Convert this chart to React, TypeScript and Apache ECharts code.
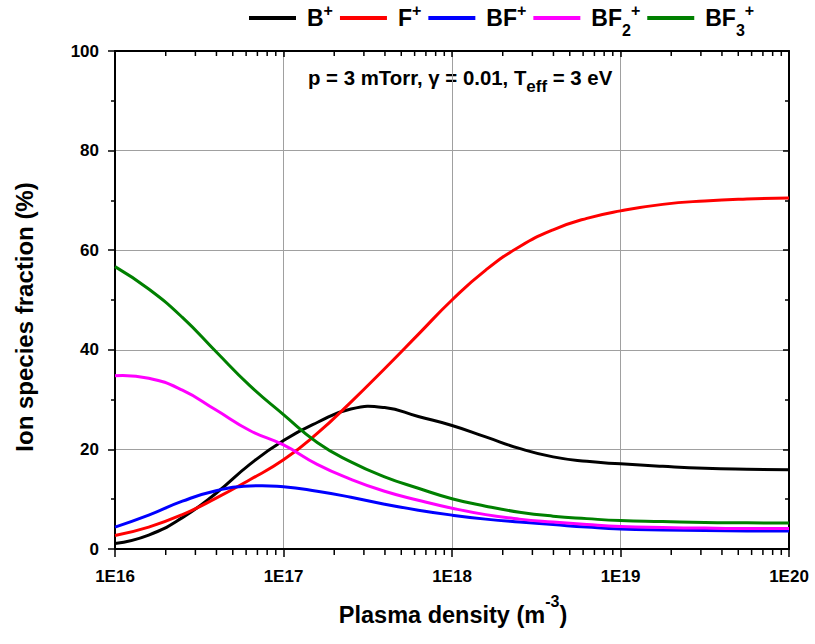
import React, { useEffect, useRef } from "react";
import * as echarts from "echarts";

// log10 of plasma density (m^-3)
const exponents = [16, 16.2, 16.4, 16.6, 16.8, 17, 17.2, 17.4, 17.6, 17.8, 18, 18.2, 18.4, 18.6, 18.8, 19, 19.25, 19.5, 19.75, 20];
const seriesNames = ["B+", "F+", "BF+", "BF2+", "BF3+"];
const bPlus = [1.1, 2.8, 6.3, 11.2, 17.0, 21.8, 25.4, 28.1, 28.4, 26.6, 24.8, 22.5, 20.2, 18.5, 17.6, 17.1, 16.6, 16.2, 16.0, 15.9];
const fPlus = [2.7, 4.4, 6.9, 10.2, 13.9, 17.9, 23.2, 29.5, 36.2, 43.1, 50.0, 56.0, 60.7, 64.1, 66.4, 67.9, 69.2, 69.9, 70.3, 70.5];
const bfPlus = [4.4, 6.8, 9.6, 11.7, 12.65, 12.5, 11.6, 10.4, 9.0, 7.8, 6.8, 6.0, 5.4, 4.9, 4.4, 4.0, 3.8, 3.7, 3.6, 3.6];
const bf2Plus = [34.8, 34.3, 31.9, 27.9, 23.8, 20.9, 17.0, 14.0, 11.6, 9.8, 8.2, 6.9, 6.0, 5.4, 4.9, 4.5, 4.3, 4.2, 4.1, 4.1];
const bf3Plus = [56.7, 52.2, 46.5, 39.6, 32.8, 27.0, 21.4, 17.5, 14.5, 12.2, 10.1, 8.6, 7.4, 6.6, 6.1, 5.7, 5.5, 5.3, 5.25, 5.2];
const seriesColors = ["#000000", "#ff0000", "#0000ff", "#ff00ff", "#008000"];
const legendLabels: Record<string, string> = {
  "B+": "{n|B}{sup|+}",
  "F+": "{n|F}{sup|+}",
  "BF+": "{n|BF}{sup|+}",
  "BF2+": "{n|BF}{sub|2}{sup|+}",
  "BF3+": "{n|BF}{sub|3}{sup|+}",
};
const minorMantissas = [2, 3, 4, 5, 6, 7, 8, 9];
const decades = [16, 17, 18, 19];
const xMin = 1e16;
const xMax = 1e20;
const yTicks = { min: 0, max: 100, interval: 20 };

const FONT = "'Liberation Sans', Arial, sans-serif";

export default function App() {
  const ref = useRef<HTMLDivElement>(null);
  useEffect(() => {
    if (!ref.current) return;
    const chart = echarts.init(ref.current, null, { renderer: "svg" });
    const densities = exponents.map((e) => Math.pow(10, e));
    const allData = [bPlus, fPlus, bfPlus, bf2Plus, bf3Plus];
    const minorTicks: number[] = [];
    decades.forEach((d) => minorMantissas.forEach((m) => minorTicks.push(m * Math.pow(10, d))));

    const legendRich = {
      n: { fontSize: 23, fontWeight: "bold", fontFamily: FONT, color: "#000" },
      sup: { fontSize: 16, fontWeight: "bold", fontFamily: FONT, color: "#000", padding: [0, 0, 16, 0] },
      sub: { fontSize: 16, fontWeight: "bold", fontFamily: FONT, color: "#000", padding: [25, 0, 0, 0] },
    };

    // Each curve: a custom series drawing one smooth spline through its points (via the axes' scales)
    const curveSeries = seriesNames.map((name, i) => {
      const pts = densities.map((x, j) => [x, allData[i][j]]);
      return {
        name,
        type: "custom",
        coordinateSystem: "cartesian2d",
        xAxisIndex: 0,
        yAxisIndex: 0,
        dimensions: ["x", "y"],
        encode: { x: 0, y: 1 },
        data: pts,
        itemStyle: { color: seriesColors[i] },
        z: 3 + i,
        renderItem: (params: any, api: any) => {
          if (params.dataIndex !== 0) return null;
          const points = pts.map((p) => api.coord(p));
          return {
            type: "polyline",
            shape: { points, smooth: 0.5 },
            style: { stroke: seriesColors[i], lineWidth: 3, fill: null, lineJoin: "round" },
          };
        },
      };
    });

    // Logarithmic minor ticks on bottom (outward) and top (inward) x axes
    const tickPts = minorTicks.map((v) => [v, yTicks.min]);
    const minorTickSeries = {
      name: "minorTicks",
      type: "custom",
      coordinateSystem: "cartesian2d",
      xAxisIndex: 0,
      yAxisIndex: 0,
      silent: true,
      clip: false,
      z: 20,
      dimensions: ["x", "y"],
      encode: { x: 0, y: 1 },
      data: tickPts,
      itemStyle: { color: "#000" },
      renderItem: (params: any, api: any) => {
        if (params.dataIndex !== 0) return null;
        const children: any[] = [];
        minorTicks.forEach((v) => {
          const b = api.coord([v, yTicks.min]);
          const t = api.coord([v, yTicks.max]);
          children.push({ type: "rect", shape: { x: b[0] - 0.75, y: b[1], width: 1.5, height: 6 }, style: { fill: "#000" } });
          children.push({ type: "rect", shape: { x: t[0] - 0.75, y: t[1], width: 1.5, height: 5 }, style: { fill: "#000" } });
        });
        return { type: "group", children };
      },
    };

    const axisLineStyle = { color: "#000", width: 2 };
    const gridLine = { show: true, lineStyle: { color: "#a0a0a0", width: 1 } };

    chart.setOption({
      animation: false,
      backgroundColor: "#ffffff",
      grid: { left: 115, right: 26, top: 51, bottom: 95, containLabel: false },
      legend: {
        data: seriesNames,
        left: 244,
        top: -3,
        itemWidth: 47,
        itemHeight: 4,
        itemGap: 7,
        icon: "rect",
        formatter: (name: string) => legendLabels[name],
        textStyle: { rich: legendRich, padding: [0, 0, 0, 6] },
      },
      xAxis: [
        {
          type: "log",
          logBase: 10,
          min: xMin,
          max: xMax,
          splitNumber: 4,
          position: "bottom",
          axisLine: { show: true, onZero: false, lineStyle: axisLineStyle },
          axisTick: { show: true, inside: false, length: 8, lineStyle: { color: "#000", width: 1.5 } },
          axisLabel: {
            margin: 19,
            color: "#000",
            fontSize: 17,
            fontWeight: "bold",
            fontFamily: FONT,
            formatter: (v: number) => "1E" + Math.round(Math.log10(v)),
          },
          splitLine: gridLine,
        },
        {
          type: "log",
          logBase: 10,
          min: xMin,
          max: xMax,
          splitNumber: 4,
          position: "top",
          axisLine: { show: true, onZero: false, lineStyle: axisLineStyle },
          axisTick: { show: true, inside: true, length: 6, lineStyle: { color: "#000", width: 1.5 } },
          axisLabel: { show: false },
          splitLine: { show: false },
        },
      ],
      yAxis: [
        {
          type: "value",
          min: yTicks.min,
          max: yTicks.max,
          interval: yTicks.interval,
          position: "left",
          axisLine: { show: true, onZero: false, lineStyle: axisLineStyle },
          axisTick: { show: true, inside: false, length: 7, lineStyle: { color: "#000", width: 1.5 } },
          minorTick: { show: true, splitNumber: 2, length: 4, lineStyle: { color: "#000", width: 1.5 } },
          axisLabel: { margin: 16, color: "#000", fontSize: 17, fontWeight: "bold", fontFamily: FONT },
          splitLine: gridLine,
        },
        {
          type: "value",
          min: yTicks.min,
          max: yTicks.max,
          interval: yTicks.interval,
          position: "right",
          axisLine: { show: true, onZero: false, lineStyle: axisLineStyle },
          axisTick: { show: true, inside: true, length: 6, lineStyle: { color: "#000", width: 1.5 } },
          minorTick: { show: true, splitNumber: 2, length: 4, lineStyle: { color: "#000", width: 1.5 } },
          axisLabel: { show: false },
          splitLine: { show: false },
        },
      ],
      series: [...curveSeries, minorTickSeries],
      graphic: [
        {
          type: "text",
          x: 308,
          y: 78,
          style: {
            text: "{a|p = 3 mTorr, γ = 0.01, T}{s|eff}{a| = 3 eV}",
            align: "left",
            verticalAlign: "middle",
            rich: {
              a: { fontSize: 20.4, fontWeight: "bold", fontFamily: FONT, fill: "#000", color: "#000" },
              s: { fontSize: 17, fontWeight: "bold", fontFamily: FONT, fill: "#000", color: "#000", padding: [16, 0, 0, 0] },
            },
          },
        },
        {
          type: "text",
          x: 453,
          y: 615,
          style: {
            text: "{a|Plasma density (m}{s|-3}{a|)}",
            align: "center",
            verticalAlign: "middle",
            rich: {
              a: { fontSize: 23.5, fontWeight: "bold", fontFamily: FONT, fill: "#000", color: "#000" },
              s: { fontSize: 16, fontWeight: "bold", fontFamily: FONT, fill: "#000", color: "#000", padding: [0, 0, 28, 0] },
            },
          },
        },
        {
          type: "text",
          x: 24,
          y: 317,
          rotation: Math.PI / 2,
          style: {
            text: "Ion species fraction (%)",
            align: "center",
            verticalAlign: "middle",
            fontSize: 24,
            fontWeight: "bold",
            fontFamily: FONT,
            fill: "#000",
          },
        },
      ],
    });
    return () => chart.dispose();
  }, []);
  return <div ref={ref} style={{ position: "fixed", left: 0, top: 0, width: 815, height: 644 }} />;
}
